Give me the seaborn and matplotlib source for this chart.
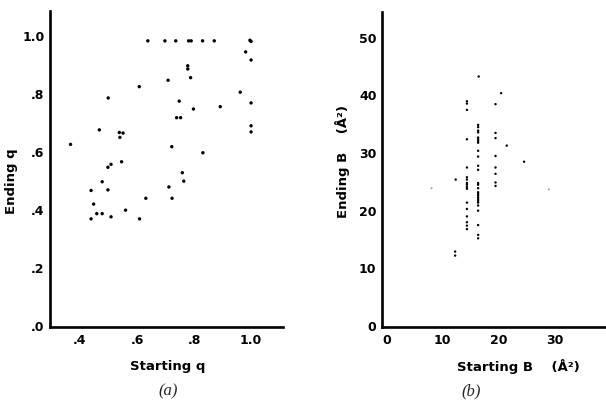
import matplotlib
matplotlib.use("Agg")
import matplotlib.pyplot as plt
import seaborn as sns
import pandas as pd

# ---- panel (a) data ----
start_q = [0.638, 0.698, 0.736, 0.781, 0.790, 0.830, 0.871, 0.996, 1.000, 0.981,
           1.000, 0.778, 0.778, 0.788, 0.709, 0.608, 0.962, 0.499, 0.748, 0.892,
           1.000, 0.798, 0.739, 0.753, 0.468, 0.538, 0.551, 0.540, 1.000, 1.000,
           0.367, 0.722, 0.831, 0.546, 0.509, 0.498, 0.759, 0.764, 0.478, 0.712,
           0.439, 0.498, 0.448, 0.631, 0.723, 0.560, 0.459, 0.478, 0.439, 0.509,
           0.609]
end_q = [0.980, 0.980, 0.980, 0.980, 0.980, 0.980, 0.980, 0.982, 0.978, 0.942,
         0.914, 0.894, 0.883, 0.853, 0.844, 0.822, 0.803, 0.783, 0.772, 0.753,
         0.766, 0.745, 0.715, 0.715, 0.673, 0.664, 0.662, 0.647, 0.687, 0.666,
         0.623, 0.615, 0.594, 0.563, 0.554, 0.544, 0.525, 0.496, 0.494, 0.476,
         0.464, 0.466, 0.417, 0.437, 0.437, 0.396, 0.384, 0.384, 0.366, 0.373,
         0.366]

# ---- panel (b) data ----
start_b = [16.4, 20.4, 14.3, 14.3, 14.3, 19.4,
           16.3, 16.3, 16.3, 16.3, 16.3, 16.3, 16.3, 16.3,
           19.4, 19.4, 14.3, 21.4, 16.3, 16.3, 19.4, 24.5,
           14.3, 16.3, 16.3, 19.4, 19.4, 12.3,
           14.3, 14.3, 14.3, 14.3, 14.3, 14.3,
           16.3, 16.3, 16.3, 16.3, 16.3, 16.3, 16.3, 16.3, 16.3, 16.3, 16.3, 16.3,
           19.4, 19.4,
           14.3, 14.3, 14.3, 14.3, 14.3, 14.3,
           16.3, 16.3, 16.3,
           12.2, 12.2]
end_b = [43.1, 40.2, 38.8, 38.4, 37.3, 38.3,
         34.7, 34.3, 33.7, 33.4, 32.5, 32.2, 31.9, 31.6,
         33.3, 32.4, 32.2, 31.1, 30.2, 29.2, 29.3, 28.3,
         27.3, 27.6, 26.9, 27.3, 26.2, 25.2,
         25.6, 25.2, 24.6, 24.3, 23.9, 23.6,
         24.6, 24.3, 23.7, 23.0, 22.7, 22.4, 22.1, 21.8, 21.5, 21.2, 20.7, 19.8,
         24.7, 24.1,
         21.2, 20.1, 18.8, 17.8, 17.2, 16.6,
         17.3, 15.6, 15.0,
         12.7, 12.0]
faint_start_b = [8.0, 28.9]
faint_end_b = [23.7, 23.5]

q_ticks = [0.4, 0.6, 0.8, 1.0]
q_tick_labels = [".4", ".6", ".8", "1.0"]
qy_ticks = [0.0, 0.2, 0.4, 0.6, 0.8, 1.0]
qy_tick_labels = [".0", ".2", ".4", ".6", ".8", "1.0"]
b_xticks = [0, 10, 20, 30]
b_yticks = [0, 10, 20, 30, 40, 50]

sns.set_theme(style="white")
plt.rcParams["font.family"] = ["DejaVu Sans"]

fig = plt.figure(figsize=(6.06, 4.02), dpi=100)
ax1 = fig.add_axes([50/606, 74/402, 233/606, 316/402])
ax2 = fig.add_axes([382/606, 74/402, 224/606, 315/402])

df_a = pd.DataFrame({"start": start_q, "end": end_q})
df_b = pd.DataFrame({"start": start_b, "end": end_b})
df_bf = pd.DataFrame({"start": faint_start_b, "end": faint_end_b})

sns.scatterplot(data=df_a, x="start", y="end", ax=ax1, color="black",
                s=6, edgecolor="none", linewidth=0)
sns.scatterplot(data=df_b, x="start", y="end", ax=ax2, color="black",
                s=3, edgecolor="none", linewidth=0)
sns.scatterplot(data=df_bf, x="start", y="end", ax=ax2, color="#999999",
                s=2, edgecolor="none", linewidth=0)

ax1.set_xlim(0.295, 1.112)
ax1.set_ylim(-0.007, 1.083)
ax2.set_xlim(-0.84, 39.1)
ax2.set_ylim(-0.4, 54.3)

tick_font = dict(fontsize=9, fontweight="bold", color="black")
ax1.set_xticks(q_ticks)
ax1.set_xticklabels(q_tick_labels, **tick_font)
ax1.set_yticks(qy_ticks)
ax1.set_yticklabels(qy_tick_labels, **tick_font)
ax2.set_xticks(b_xticks)
ax2.set_xticklabels([str(v) for v in b_xticks], **tick_font)
ax2.set_yticks(b_yticks)
ax2.set_yticklabels([str(v) for v in b_yticks], **tick_font)

for ax in (ax1, ax2):
    ax.tick_params(axis="both", length=0, pad=4)
    for side in ("top", "right"):
        ax.spines[side].set_visible(False)
    for side in ("left", "bottom"):
        ax.spines[side].set_linewidth(1.9)
        ax.spines[side].set_color("black")
    ax.grid(False)

lab_font = dict(fontsize=9.5, fontweight="bold", color="black")
ax1.set_xlabel("Starting q", **lab_font)
ax1.set_ylabel("Ending q", **lab_font)
ax2.set_xlabel("Starting B    (Å²)", **lab_font)
ax2.set_ylabel("Ending B    (Å²)", **lab_font)
ax1.xaxis.set_label_coords(0.506, -0.10)
ax1.yaxis.set_label_coords(-0.137, 0.465)
ax2.xaxis.set_label_coords(0.607, -0.10)
ax2.yaxis.set_label_coords(-0.143, 0.53)

fig.text(168/606, 1 - 391/402, "(a)", fontsize=12, style="italic",
         family="Liberation Serif", ha="center", va="center")
fig.text(471/606, 1 - 391/402, "(b)", fontsize=12, style="italic",
         family="Liberation Serif", ha="center", va="center")

fig.savefig("out.png", dpi=100)
